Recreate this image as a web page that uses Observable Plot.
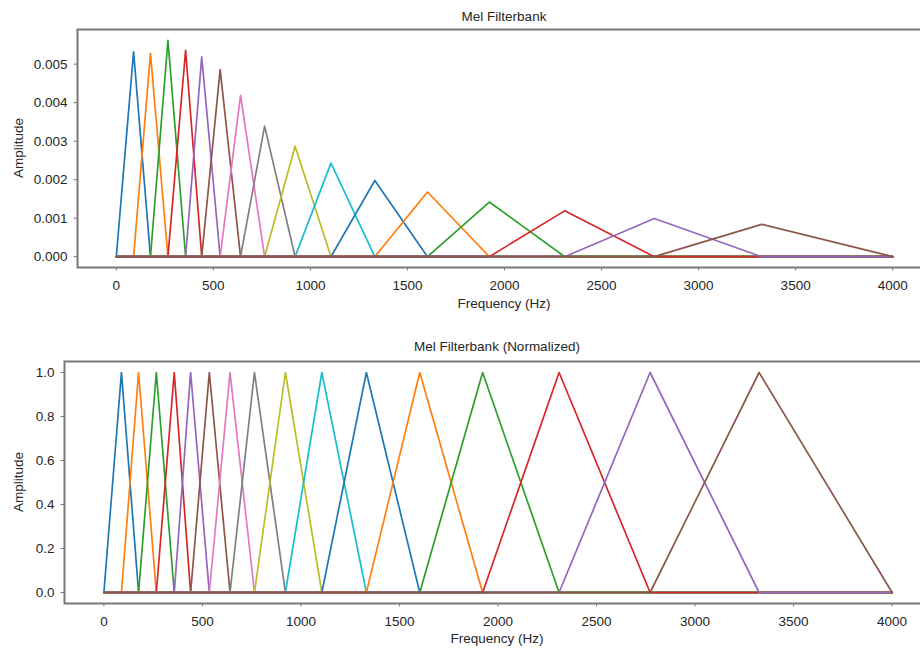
<!DOCTYPE html>
<html><head><meta charset="utf-8">
<script src="https://cdn.jsdelivr.net/npm/d3@7"></script>
<script src="https://cdn.jsdelivr.net/npm/@observablehq/plot@0.6"></script>
<style>
html,body{margin:0;padding:0;background:#fff;overflow:hidden;}
#fig{position:relative;width:920px;height:648px;overflow:hidden;font-family:"Liberation Sans",Arial,sans-serif;color:#262626;}
.t{position:absolute;font-size:13.5px;white-space:nowrap;transform:translate(-50%,-50%);}
.yl{position:absolute;font-size:13.5px;white-space:nowrap;transform:translate(-50%,-50%) rotate(-90deg);}
.p{position:absolute;left:0;max-width:none !important;}
</style></head><body><div id="fig"></div>
<script>
// Triangle filter edges (Hz): filter i starts at edge i, peaks at edge i+1, ends at edge i+2
const melEdgesHz = [0, 89, 176, 266, 357, 440, 535, 640, 764, 921, 1106, 1332, 1603, 1922, 2310, 2772, 3325, 4000];
const peakAmplitudes = [0.00532, 0.00528, 0.00562, 0.00536, 0.00519, 0.00486, 0.00419, 0.00339, 0.00287, 0.00243, 0.00198, 0.00168, 0.00142, 0.00119, 0.00099, 0.00084];
const normalizedPeaks = [1, 1, 1, 1, 1, 1, 1, 1, 1, 1, 1, 1, 1, 1, 1, 1];
const filterColors = ["#1f77b4", "#ff7f0e", "#2ca02c", "#d62728", "#9467bd", "#8c564b", "#e377c2", "#7f7f7f", "#bcbd22", "#17becf"];
const freqTicks = [0, 500, 1000, 1500, 2000, 2500, 3000, 3500, 4000];
const ampTicks = [0, 0.001, 0.002, 0.003, 0.004, 0.005];
const normTicks = [0, 0.2, 0.4, 0.6, 0.8, 1.0];
const titles = ["Mel Filterbank", "Mel Filterbank (Normalized)"];
const xLabel = "Frequency (Hz)";
const yLabel = "Amplitude";

const fMin = melEdgesHz[0], fMax = melEdgesHz[melEdgesHz.length - 1];

function filterMarks(peaks) {
  return peaks.map((p, i) => {
    const pts = [
      {f: fMin, a: 0},
      {f: melEdgesHz[i], a: 0},
      {f: melEdgesHz[i + 1], a: p},
      {f: melEdgesHz[i + 2], a: 0},
      {f: fMax, a: 0}
    ];
    return Plot.line(pts, {x: "f", y: "a", stroke: filterColors[i % filterColors.length], strokeWidth: 1.7, strokeLinejoin: "round"});
  });
}

function panel(peaks, yDomain, yTicks, yFmt, m, h) {
  return Plot.plot({
    width: 940, height: h,
    marginLeft: m.left, marginRight: m.right, marginTop: m.top, marginBottom: m.bottom,
    style: {fontFamily: '"Liberation Sans", Arial, sans-serif', fontSize: "13.5px", color: "#262626", background: "transparent", overflow: "visible", maxWidth: "none"},
    x: {domain: [-200, 4200]},
    y: {domain: yDomain},
    marks: [
      ...filterMarks(peaks),
      Plot.frame({stroke: "#787878", strokeWidth: 2}),
      Plot.axisX(freqTicks, {anchor: "bottom", tickSize: 3.5, tickPadding: 9, stroke: "#787878", fill: "#262626", label: null, tickFormat: d3.format("d")}),
      Plot.axisY(yTicks, {anchor: "left", tickSize: 3.5, tickPadding: 6.5, stroke: "#787878", fill: "#262626", label: null, tickFormat: d3.format(yFmt)})
    ]
  });
}

const fig = document.getElementById("fig");
const top1 = panel(peakAmplitudes, [-0.000281, 0.005901], ampTicks, ".3f", {left: 77, right: 9, top: 29, bottom: 53}, 320);
top1.classList.add("p"); top1.style.top = "0px"; top1.style.maxWidth = "none"; top1.style.width = "940px";
fig.appendChild(top1);
const bot = panel(normalizedPeaks, [-0.05, 1.05], normTicks, ".1f", {left: 64, right: 9, top: 31, bottom: 45}, 318);
bot.classList.add("p"); bot.style.top = "330px"; bot.style.maxWidth = "none"; bot.style.width = "940px";
fig.appendChild(bot);

function label(text, x, y, cls) {
  const d = document.createElement("div");
  d.className = cls; d.textContent = text;
  d.style.left = x + "px"; d.style.top = y + "px";
  fig.appendChild(d);
}
label(titles[0], 504, 16, "t");
label(xLabel, 504, 303, "t");
label(yLabel, 17.5, 148, "yl");
label(titles[1], 497, 346, "t");
label(xLabel, 497, 638, "t");
label(yLabel, 17.5, 482, "yl");
</script></body></html>
